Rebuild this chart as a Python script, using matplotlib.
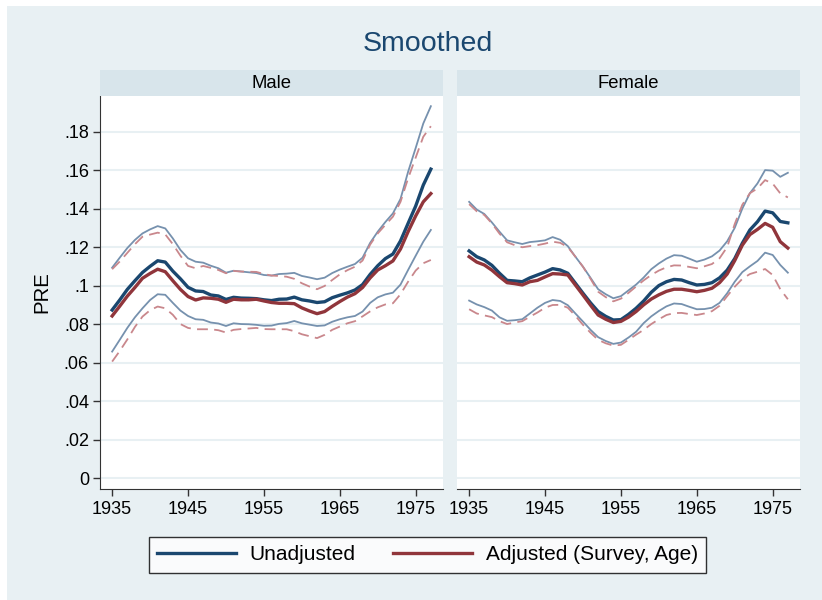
import numpy as np
import matplotlib.pyplot as plt
from matplotlib.patches import Rectangle
from matplotlib.lines import Line2D

plt.rcParams['font.family'] = ['Liberation Sans', 'DejaVu Sans']

years = np.arange(1935, 1978)

# Male
male_unadj = [0.0873, 0.0925, 0.0980, 0.1025, 0.1068, 0.1100, 0.1129, 0.1122, 0.1075, 0.1035,
              0.0991, 0.0972, 0.0969, 0.0951, 0.0946, 0.0928, 0.0939, 0.0935, 0.0934, 0.0932,
              0.0926, 0.0922, 0.0929, 0.0930, 0.0940, 0.0926, 0.0920, 0.0912, 0.0916, 0.0937,
              0.0950, 0.0962, 0.0977, 0.1005, 0.1058, 0.1103, 0.1140, 0.1164, 0.1232, 0.1323,
              0.1413, 0.1522, 0.1605]
male_unadj_hi = [0.1093, 0.1145, 0.1195, 0.1237, 0.1271, 0.1292, 0.1309, 0.1297, 0.1245, 0.1185,
                 0.1142, 0.1124, 0.1119, 0.1103, 0.1090, 0.1067, 0.1077, 0.1073, 0.1069, 0.1065,
                 0.1055, 0.1052, 0.1060, 0.1062, 0.1066, 0.1050, 0.1042, 0.1033, 0.1041, 0.1065,
                 0.1083, 0.1098, 0.1112, 0.1145, 0.1222, 0.1280, 0.1330, 0.1375, 0.1450, 0.1591,
                 0.1715, 0.1842, 0.1932]
male_unadj_lo = [0.0657, 0.0718, 0.0780, 0.0835, 0.0882, 0.0925, 0.0955, 0.0952, 0.0910, 0.0870,
                 0.0842, 0.0825, 0.0822, 0.0808, 0.0803, 0.0790, 0.0804, 0.0800, 0.0799, 0.0796,
                 0.0791, 0.0792, 0.0801, 0.0805, 0.0816, 0.0804, 0.0797, 0.0790, 0.0793, 0.0812,
                 0.0825, 0.0835, 0.0842, 0.0865, 0.0910, 0.0939, 0.0954, 0.0963, 0.1005, 0.1081,
                 0.1155, 0.1228, 0.1289]
male_adj = [0.0842, 0.0893, 0.0945, 0.0990, 0.1038, 0.1063, 0.1085, 0.1072, 0.1025, 0.0980,
            0.0943, 0.0925, 0.0936, 0.0934, 0.0929, 0.0913, 0.0929, 0.0926, 0.0926, 0.0929,
            0.0920, 0.0912, 0.0908, 0.0908, 0.0906, 0.0884, 0.0868, 0.0854, 0.0865, 0.0892,
            0.0917, 0.0940, 0.0958, 0.0990, 0.1040, 0.1081, 0.1103, 0.1128, 0.1190, 0.1280,
            0.1362, 0.1435, 0.1478]
male_adj_hi = [0.1085, 0.1125, 0.1170, 0.1215, 0.1254, 0.1265, 0.1275, 0.1266, 0.1215, 0.1155,
               0.1102, 0.1090, 0.1102, 0.1092, 0.1081, 0.1064, 0.1076, 0.1073, 0.1072, 0.1071,
               0.1060, 0.1052, 0.1050, 0.1046, 0.1035, 0.1012, 0.0995, 0.0981, 0.0998, 0.1029,
               0.1058, 0.1080, 0.1098, 0.1130, 0.1213, 0.1271, 0.1315, 0.1358, 0.1435, 0.1557,
               0.1665, 0.1773, 0.1828]
male_adj_lo = [0.0605, 0.0660, 0.0720, 0.0785, 0.0839, 0.0872, 0.0891, 0.0882, 0.0848, 0.0800,
               0.0780, 0.0773, 0.0773, 0.0773, 0.0768, 0.0756, 0.0770, 0.0774, 0.0777, 0.0780,
               0.0774, 0.0773, 0.0773, 0.0773, 0.0763, 0.0747, 0.0737, 0.0727, 0.0744, 0.0770,
               0.0787, 0.0804, 0.0815, 0.0840, 0.0866, 0.0887, 0.0902, 0.0908, 0.0955, 0.1020,
               0.1078, 0.1116, 0.1133]

# Female
female_unadj = [0.1180, 0.1150, 0.1133, 0.1105, 0.1064, 0.1027, 0.1024, 0.1020, 0.1040, 0.1055,
                0.1070, 0.1088, 0.1081, 0.1064, 0.1012, 0.0960, 0.0910, 0.0865, 0.0840, 0.0821,
                0.0823, 0.0850, 0.0882, 0.0920, 0.0965, 0.1000, 0.1020, 0.1032, 0.1029, 0.1015,
                0.1003, 0.1006, 0.1015, 0.1040, 0.1080, 0.1140, 0.1220, 0.1289, 0.1332, 0.1387,
                0.1378, 0.1333, 0.1326]
female_unadj_hi = [0.1435, 0.1395, 0.1372, 0.1328, 0.1280, 0.1235, 0.1225, 0.1216, 0.1226, 0.1230,
                   0.1235, 0.1252, 0.1238, 0.1205, 0.1150, 0.1098, 0.1040, 0.0981, 0.0955, 0.0934,
                   0.0945, 0.0975, 0.1005, 0.1042, 0.1085, 0.1115, 0.1140, 0.1158, 0.1155, 0.1140,
                   0.1124, 0.1135, 0.1152, 0.1182, 0.1230, 0.1300, 0.1400, 0.1480, 0.1531, 0.1600,
                   0.1597, 0.1565, 0.1586]
female_unadj_lo = [0.0922, 0.0902, 0.0888, 0.0870, 0.0835, 0.0817, 0.0820, 0.0825, 0.0855, 0.0885,
                   0.0910, 0.0925, 0.0920, 0.0898, 0.0855, 0.0813, 0.0770, 0.0732, 0.0712, 0.0697,
                   0.0704, 0.0730, 0.0760, 0.0805, 0.0840, 0.0868, 0.0892, 0.0907, 0.0904, 0.0890,
                   0.0877, 0.0878, 0.0885, 0.0910, 0.0960, 0.1020, 0.1070, 0.1100, 0.1128, 0.1171,
                   0.1159, 0.1107, 0.1067]
female_adj = [0.1150, 0.1122, 0.1107, 0.1080, 0.1046, 0.1015, 0.1010, 0.1003, 0.1020, 0.1027,
              0.1045, 0.1062, 0.1060, 0.1055, 0.1003, 0.0951, 0.0898, 0.0847, 0.0825, 0.0808,
              0.0814, 0.0836, 0.0865, 0.0900, 0.0930, 0.0952, 0.0970, 0.0981, 0.0981, 0.0975,
              0.0968, 0.0975, 0.0986, 0.1015, 0.1060, 0.1130, 0.1210, 0.1265, 0.1292, 0.1323,
              0.1303, 0.1228, 0.1195]
female_adj_hi = [0.1423, 0.1386, 0.1367, 0.1323, 0.1270, 0.1225, 0.1210, 0.1199, 0.1205, 0.1210,
                 0.1218, 0.1228, 0.1222, 0.1200, 0.1150, 0.1098, 0.1035, 0.0968, 0.0940, 0.0918,
                 0.0932, 0.0962, 0.0995, 0.1027, 0.1055, 0.1078, 0.1095, 0.1105, 0.1104, 0.1097,
                 0.1090, 0.1100, 0.1112, 0.1142, 0.1200, 0.1320, 0.1420, 0.1480, 0.1505, 0.1548,
                 0.1530, 0.1479, 0.1458]
female_adj_lo = [0.0877, 0.0855, 0.0845, 0.0836, 0.0815, 0.0800, 0.0808, 0.0815, 0.0838, 0.0860,
                 0.0885, 0.0899, 0.0900, 0.0885, 0.0843, 0.0796, 0.0755, 0.0718, 0.0700, 0.0688,
                 0.0692, 0.0718, 0.0745, 0.0770, 0.0800, 0.0825, 0.0847, 0.0857, 0.0858, 0.0852,
                 0.0847, 0.0855, 0.0867, 0.0895, 0.0945, 0.0994, 0.1035, 0.1060, 0.1072, 0.1086,
                 0.1055, 0.0981, 0.0929]

panels = ['Male', 'Female']
yticks = [0, 0.02, 0.04, 0.06, 0.08, 0.1, 0.12, 0.14, 0.16, 0.18]
ytick_labels = ['0', '.02', '.04', '.06', '.08', '.1', '.12', '.14', '.16', '.18']
xticks = [1935, 1945, 1955, 1965, 1975]

navy = '#1a476f'
maroon = '#90353b'
navy_ci = '#7691ae'
maroon_ci = '#c9878c'
bg = '#e8f0f3'
strip_bg = '#d8e5eb'
grid_c = '#e8f0f3'

W, H = 822, 600
fig = plt.figure(figsize=(W / 100, H / 100), dpi=100)
fig.patch.set_facecolor('white')
fig.patches.append(Rectangle((7 / W, 0), 1 - 7 / W, 1 - 6 / H, transform=fig.transFigure,
                             facecolor=bg, edgecolor='none', zorder=-10))

data = {
    'Male': (male_unadj, male_unadj_hi, male_unadj_lo, male_adj, male_adj_hi, male_adj_lo),
    'Female': (female_unadj, female_unadj_hi, female_unadj_lo, female_adj, female_adj_hi, female_adj_lo),
}

lefts = [100, 457]
width_px = 343
bottom_px, top_px, strip_top = 489, 96, 70

for i, name in enumerate(panels):
    l = lefts[i]
    ax = fig.add_axes([l / W, 1 - bottom_px / H, width_px / W, (bottom_px - top_px) / H])
    sax = fig.add_axes([l / W, 1 - top_px / H, width_px / W, (top_px - strip_top) / H])
    sax.set_facecolor(strip_bg)
    sax.set_xticks([])
    sax.set_yticks([])
    for s in sax.spines.values():
        s.set_visible(False)
    sax.text(0.5, 0.5, name, ha='center', va='center', fontsize=13.3, transform=sax.transAxes)

    u, uh, ul, a, ah, al = data[name]
    ax.plot(years, uh, color=navy_ci, lw=1.3)
    ax.plot(years, ul, color=navy_ci, lw=1.3)
    ax.plot(years, ah, color=maroon_ci, lw=1.3, ls=(0, (6, 3.5)))
    ax.plot(years, al, color=maroon_ci, lw=1.3, ls=(0, (6, 3.5)))
    ax.plot(years, u, color=navy, lw=2.4)
    ax.plot(years, a, color=maroon, lw=2.4)

    ax.set_xlim(1933.4, 1978.6)
    ax.set_ylim(-0.0057, 0.1985)
    ax.set_yticks(yticks)
    ax.set_xticks(xticks)
    ax.set_xticklabels([str(x) for x in xticks], fontsize=13)
    ax.grid(axis='y', color=grid_c, lw=1.5)
    ax.set_axisbelow(True)
    ax.spines['top'].set_visible(False)
    ax.spines['right'].set_visible(False)
    ax.spines['bottom'].set_color('#333333')
    ax.tick_params(axis='x', length=5, width=1, color='#333333', pad=4)
    if i == 0:
        ax.set_yticklabels(ytick_labels, fontsize=13)
        ax.tick_params(axis='y', length=5, width=1, color='#333333', pad=3)
        ax.spines['left'].set_color('#333333')
        ax.set_ylabel('PRE', fontsize=14.7, labelpad=9)
    else:
        ax.spines['left'].set_visible(False)
        ax.tick_params(axis='y', left=False, labelleft=False)

fig.text(428 / W, 1 - 44 / H, 'Smoothed', ha='center', va='center', fontsize=20.5, color=navy)

handles = [Line2D([], [], color=navy, lw=2.4), Line2D([], [], color=maroon, lw=2.4)]
leg = fig.legend(handles, ['Unadjusted', 'Adjusted (Survey, Age)'], ncol=2,
                 loc='center', bbox_to_anchor=(427.5 / W, 1 - 555 / H),
                 fontsize=15, frameon=True, fancybox=False, edgecolor='black',
                 handlelength=3.8, handletextpad=0.65, columnspacing=1.8, borderpad=0.4)
leg.get_frame().set_linewidth(1.0)
leg.get_frame().set_facecolor('white')

fig.savefig('out.png', dpi=100)
